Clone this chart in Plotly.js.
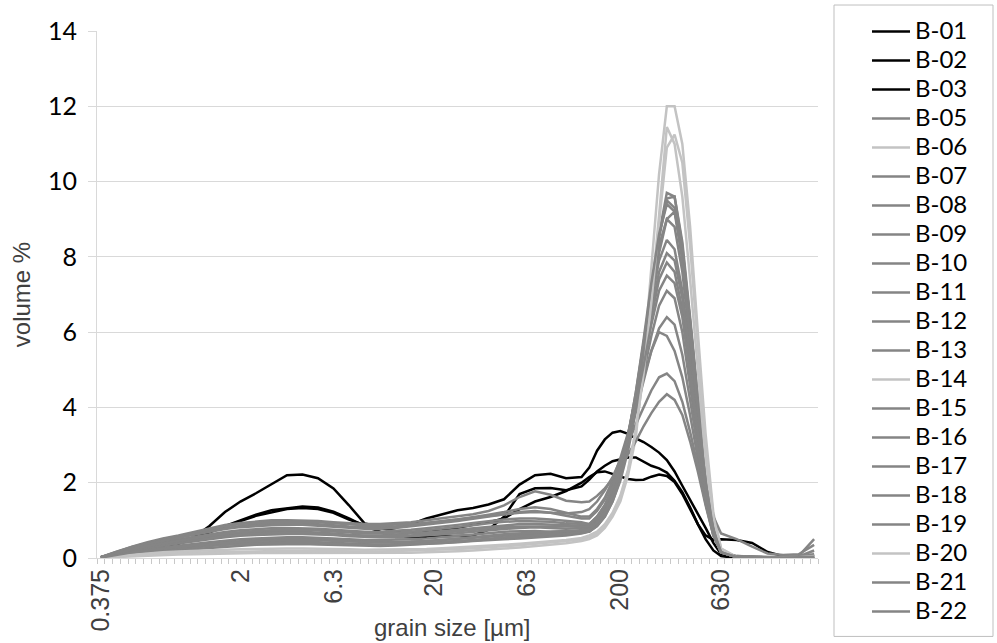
<!DOCTYPE html>
<html>
<head>
<meta charset="utf-8">
<script src="https://cdn.plot.ly/plotly-3.0.1.min.js"></script>
<style>
  html, body { margin: 0; padding: 0; background: #ffffff; }
  #chart { width: 997px; height: 643px; }
</style>
</head>
<body>
<div id="chart"></div>
<script>
// Grain-size channels (µm) of the laser diffraction run: every second channel
// in the fine and medium range, every channel across the main sand peak.
const sizes = [
  0.375, 0.452, 0.545, 0.657, 0.791, 0.954, 1.149, 1.385, 1.669, 2.010, 2.423, 2.920, 3.519, 4.240, 5.110, 6.158,
  7.421, 8.943, 10.78, 12.99, 15.65, 18.86, 22.73, 27.39, 33.01, 39.78, 47.94, 57.77, 69.62, 83.90, 101.1, 121.8,
  133.7, 146.8, 161.2, 176.9, 194.2, 213.2, 234.1, 256.9, 282.1, 309.6, 339.9, 373.1, 409.6, 449.7, 493.6, 541.9, 594.9, 653.0,
  786.9, 948.3, 1143, 1377, 1660, 2000
];

// Labelled channels on the size axis and their printed labels
const tickSizes  = [0.375, 2.010, 6.158, 20.70, 63.42, 194.2, 653.0];
const tickLabels = ['0.375', '2', '6.3', '20', '63', '200', '630'];

// Volume % per channel for each sample
const b01 = [0.02,0.1,0.17,0.24,0.3,0.38,0.55,0.85,1.22,1.5,1.72,1.97,2.2,2.22,2.12,1.85,
             1.4,0.92,0.84,0.82,0.9,1.05,1.15,1.27,1.33,1.42,1.56,1.95,2.2,2.24,2.12,2.15,
             2.4,2.85,3.15,3.33,3.37,3.3,3.18,3.08,2.95,2.8,2.6,2.3,1.92,1.55,1.2,0.8,0.4,0.1,
             0.02,0,0,0,0,0];
const b02 = [0.02,0.1,0.17,0.25,0.33,0.42,0.55,0.7,0.85,1.0,1.15,1.27,1.33,1.37,1.34,1.23,
             1.05,0.85,0.7,0.56,0.55,0.56,0.57,0.58,0.6,0.75,1.1,1.7,1.85,1.86,1.8,1.9,
             2.08,2.3,2.45,2.57,2.63,2.67,2.67,2.55,2.45,2.38,2.27,2.05,1.75,1.35,0.9,0.5,0.2,0.05,
             0,0,0,0,0,0];
const b03 = [0.02,0.1,0.16,0.23,0.3,0.4,0.52,0.68,0.84,0.98,1.12,1.22,1.3,1.33,1.3,1.2,
             1.02,0.88,0.8,0.72,0.68,0.7,0.74,0.8,0.88,0.95,1.05,1.3,1.5,1.62,1.78,2.0,
             2.15,2.28,2.3,2.24,2.18,2.1,2.07,2.08,2.16,2.22,2.18,2.02,1.7,1.3,0.9,0.6,0.48,0.5,
             0.48,0.4,0.16,0.05,0.03,0.04];
const b05 = [0.01,0.06,0.1,0.14,0.18,0.21,0.25,0.28,0.31,0.33,0.35,0.36,0.37,0.37,0.36,0.35,
             0.33,0.32,0.32,0.33,0.35,0.37,0.4,0.42,0.45,0.48,0.5,0.52,0.54,0.56,0.6,0.65,
             0.7,0.85,1.1,1.5,2.1,2.95,4.1,5.5,7.1,8.6,9.7,9.6,8.3,6.2,4.1,2.2,0.85,0.18,
             0.02,0,0,0,0,0];
const b06 = [0.01,0.03,0.05,0.06,0.08,0.09,0.1,0.11,0.12,0.12,0.13,0.13,0.13,0.13,0.13,0.12,
             0.12,0.12,0.13,0.13,0.14,0.15,0.16,0.18,0.2,0.22,0.25,0.28,0.31,0.35,0.39,0.45,
             0.5,0.6,0.8,1.1,1.5,2.2,3.2,5.2,7.6,10.2,12.0,12.0,11.0,8.8,6.0,3.3,1.2,0.25,
             0.03,0.02,0.02,0.03,0.05,0.12];
const b07 = [0.01,0.08,0.13,0.18,0.22,0.26,0.3,0.33,0.36,0.39,0.41,0.42,0.43,0.43,0.42,0.4,
             0.38,0.36,0.35,0.35,0.36,0.38,0.4,0.43,0.46,0.5,0.53,0.56,0.6,0.62,0.64,0.68,
             0.7,0.9,1.15,1.6,2.2,3.1,4.3,5.7,7.2,8.6,9.5,9.3,8.0,6.0,3.9,2.0,0.8,0.15,
             0.02,0,0,0,0,0];
const b08 = [0.02,0.12,0.2,0.27,0.33,0.39,0.45,0.5,0.55,0.59,0.61,0.63,0.64,0.64,0.63,0.61,
             0.58,0.56,0.55,0.55,0.57,0.6,0.63,0.66,0.7,0.74,0.77,0.8,0.82,0.8,0.78,0.8,
             0.8,1.0,1.3,1.75,2.4,3.25,4.3,5.5,6.8,7.9,8.45,8.2,7.1,5.4,3.6,1.9,0.75,0.15,
             0.03,0.02,0,0,0,0.02];
const b09 = [0.02,0.13,0.22,0.3,0.37,0.44,0.5,0.56,0.61,0.65,0.68,0.7,0.71,0.7,0.68,0.65,
             0.62,0.6,0.6,0.62,0.65,0.68,0.72,0.76,0.8,0.84,0.88,0.9,0.9,0.88,0.86,0.86,
             0.85,1.05,1.35,1.8,2.4,3.2,4.2,5.3,6.4,7.4,7.85,7.6,6.6,5.0,3.4,1.8,0.7,0.15,
             0.05,0.03,0.02,0.02,0.03,0.05];
const b10 = [0.02,0.17,0.3,0.42,0.52,0.6,0.7,0.8,0.88,0.93,0.97,1.0,1.0,1.0,0.98,0.95,
             0.92,0.9,0.9,0.92,0.95,1.0,1.05,1.1,1.16,1.25,1.4,1.62,1.77,1.68,1.52,1.48,
             1.5,1.65,1.85,2.1,2.4,2.75,3.1,3.5,3.85,4.15,4.35,4.2,3.8,3.1,2.3,1.4,0.6,0.15,
             0.05,0.03,0.02,0.02,0.05,0.5];
const b11 = [0.01,0.09,0.15,0.21,0.26,0.3,0.35,0.39,0.42,0.45,0.48,0.5,0.51,0.51,0.5,0.48,
             0.45,0.43,0.42,0.42,0.43,0.45,0.48,0.51,0.54,0.57,0.6,0.62,0.64,0.65,0.66,0.68,
             0.7,0.85,1.1,1.5,2.05,2.85,3.9,5.2,6.7,8.1,9.0,9.2,8.2,6.3,4.2,2.3,0.9,0.2,
             0.02,0,0,0,0,0];
const b12 = [0.02,0.16,0.28,0.39,0.48,0.56,0.65,0.73,0.8,0.85,0.89,0.91,0.92,0.92,0.9,0.87,
             0.84,0.82,0.82,0.84,0.88,0.92,0.97,1.02,1.08,1.15,1.22,1.3,1.35,1.3,1.2,1.1,
             1.1,1.3,1.6,2.05,2.65,3.3,4.0,4.8,5.5,6.0,5.9,5.5,4.8,3.8,2.7,1.5,0.6,0.15,
             0.03,0.02,0.02,0.02,0.03,0.08];
const b13 = [0.01,0.07,0.12,0.17,0.21,0.25,0.29,0.32,0.35,0.37,0.39,0.4,0.41,0.41,0.4,0.38,
             0.36,0.35,0.35,0.36,0.38,0.4,0.42,0.45,0.48,0.51,0.54,0.57,0.6,0.63,0.66,0.7,
             0.75,0.9,1.15,1.55,2.15,3.0,4.1,5.5,7.0,8.5,9.55,9.6,8.4,6.4,4.3,2.4,1.1,0.65,
             0.5,0.3,0.12,0.08,0.1,0.35];
const b14 = [0.01,0.04,0.07,0.09,0.11,0.13,0.14,0.15,0.16,0.17,0.18,0.18,0.19,0.19,0.18,0.18,
             0.17,0.17,0.17,0.18,0.19,0.2,0.22,0.24,0.26,0.28,0.31,0.34,0.37,0.41,0.45,0.5,
             0.55,0.65,0.85,1.15,1.6,2.3,3.4,4.9,6.9,9.1,11.45,11.0,9.6,7.4,4.9,2.6,0.95,0.2,
             0.02,0.01,0.01,0.02,0.03,0.08];
const b15 = [0.02,0.14,0.25,0.34,0.42,0.49,0.56,0.63,0.69,0.74,0.77,0.79,0.8,0.8,0.78,0.75,
             0.72,0.7,0.7,0.72,0.75,0.79,0.83,0.88,0.93,0.98,1.02,1.05,1.05,1.02,0.98,0.95,
             0.9,1.1,1.4,1.85,2.4,3.1,4.0,4.9,5.9,6.7,7.1,6.9,6.0,4.6,3.1,1.7,0.65,0.15,
             0.03,0.02,0.01,0.02,0.03,0.1];
const b16 = [0.02,0.17,0.29,0.4,0.5,0.58,0.67,0.76,0.84,0.9,0.94,0.96,0.97,0.97,0.95,0.92,
             0.89,0.87,0.87,0.88,0.9,0.94,0.98,1.03,1.08,1.12,1.16,1.2,1.22,1.2,1.18,1.22,
             1.3,1.5,1.8,2.15,2.6,3.05,3.55,4.0,4.45,4.8,4.9,4.7,4.15,3.35,2.45,1.45,0.6,0.15,
             0.04,0.03,0.02,0.02,0.04,0.2];
const b17 = [0.01,0.1,0.17,0.23,0.28,0.33,0.38,0.42,0.46,0.5,0.52,0.54,0.55,0.55,0.54,0.52,
             0.5,0.48,0.48,0.48,0.5,0.52,0.55,0.58,0.62,0.66,0.7,0.72,0.72,0.7,0.7,0.72,
             0.75,0.95,1.25,1.7,2.35,3.25,4.4,5.7,7.1,8.3,9.0,8.8,7.6,5.7,3.8,2.0,0.8,0.15,
             0.02,0,0,0,0,0];
const b18 = [0.02,0.12,0.21,0.28,0.35,0.41,0.47,0.53,0.58,0.62,0.64,0.66,0.67,0.67,0.65,0.62,
             0.6,0.58,0.58,0.58,0.6,0.63,0.67,0.71,0.75,0.79,0.82,0.84,0.84,0.83,0.82,0.84,
             0.85,1.05,1.35,1.8,2.45,3.3,4.3,5.4,6.6,7.6,8.1,7.9,6.9,5.3,3.5,1.9,0.75,0.15,
             0.03,0.02,0.01,0.01,0.02,0.04];
const b19 = [0.02,0.15,0.27,0.37,0.46,0.54,0.62,0.7,0.77,0.82,0.85,0.87,0.88,0.88,0.86,0.83,
             0.8,0.78,0.78,0.8,0.84,0.88,0.93,0.98,1.04,1.1,1.16,1.22,1.25,1.2,1.12,1.05,
             1.05,1.25,1.55,1.95,2.5,3.2,3.9,4.7,5.5,6.1,6.4,6.2,5.4,4.2,2.9,1.6,0.65,0.15,
             0.03,0.02,0.02,0.02,0.03,0.06];
const b20 = [0.01,0.05,0.09,0.12,0.15,0.17,0.19,0.21,0.22,0.23,0.24,0.25,0.25,0.25,0.25,0.24,
             0.23,0.22,0.22,0.22,0.23,0.24,0.26,0.28,0.3,0.32,0.35,0.38,0.41,0.44,0.48,0.53,
             0.6,0.7,0.9,1.2,1.65,2.35,3.4,4.9,6.8,8.9,10.9,11.25,10.5,8.3,5.6,3.0,1.1,0.25,
             0.02,0.01,0.01,0.01,0.02,0.05];
const b21 = [0.01,0.09,0.15,0.2,0.25,0.29,0.33,0.37,0.4,0.43,0.46,0.47,0.48,0.48,0.47,0.45,
             0.43,0.42,0.41,0.42,0.43,0.45,0.48,0.51,0.55,0.59,0.63,0.66,0.68,0.7,0.72,0.74,
             0.75,0.95,1.2,1.65,2.3,3.2,4.4,5.8,7.3,8.6,9.4,9.2,7.9,5.9,3.9,2.0,0.75,0.15,
             0.02,0,0,0,0,0];
const b22 = [0.02,0.13,0.23,0.32,0.39,0.46,0.53,0.59,0.65,0.69,0.72,0.74,0.75,0.75,0.73,0.7,
             0.67,0.65,0.65,0.67,0.7,0.74,0.78,0.82,0.87,0.92,0.96,0.98,0.98,0.96,0.92,0.9,
             0.9,1.1,1.4,1.85,2.45,3.2,4.1,5.1,6.2,7.1,7.5,7.3,6.4,4.9,3.3,1.8,0.7,0.15,
             0.03,0.02,0.01,0.01,0.02,0.03];

const sampleNames = ['B-01','B-02','B-03','B-05','B-06','B-07','B-08','B-09','B-10','B-11','B-12',
                     'B-13','B-14','B-15','B-16','B-17','B-18','B-19','B-20','B-21','B-22'];
const sampleValues = [b01,b02,b03,b05,b06,b07,b08,b09,b10,b11,b12,b13,b14,b15,b16,b17,b18,b19,b20,b21,b22];

const BLACK = '#000000', GREY = '#858585', LIGHT = '#c3c3c3';
const sampleColors = [BLACK, BLACK, BLACK, GREY, LIGHT, GREY, GREY, GREY, GREY, GREY, GREY,
                      GREY, LIGHT, GREY, GREY, GREY, GREY, GREY, LIGHT, GREY, GREY];

// Legend rows keep a 20 px pitch while the sample names print a little larger
const traces = sampleNames.map((name, i) => ({
  type: 'scatter',
  mode: 'lines',
  name: '<span style="font-size:24px">' + name + '</span>',
  x: sizes,
  y: sampleValues[i],
  line: { color: sampleColors[i], width: 2.5 },
  hoverinfo: 'skip'
}));

// 93 instrument channels, equally spaced on a log scale; half a channel of
// padding at both ends of the size axis.
const lo = Math.log10(sizes[0]);
const hi = Math.log10(sizes[sizes.length - 1]);
const channelStep = (hi - lo) / 92;

const ARIAL = 'Liberation Sans, Arial, sans-serif';
const CALIBRI = 'Lato, Carlito, Calibri, sans-serif';
const AXIS_GREY = '#404040';

// Plot area in pixels: x 97..818, y 31..558.5
const PLOT_TOP = 31, PLOT_BOTTOM = 558.5, PLOT_LEFT = 97, PLOT_RIGHT = 818;
const plotH = PLOT_BOTTOM - PLOT_TOP, plotW = PLOT_RIGHT - PLOT_LEFT;

const layout = {
  width: 997,
  height: 643,
  margin: { l: PLOT_LEFT, r: 997 - PLOT_RIGHT, t: PLOT_TOP, b: 643 - PLOT_BOTTOM },
  paper_bgcolor: '#ffffff',
  plot_bgcolor: '#ffffff',
  showlegend: true,
  xaxis: {
    type: 'log',
    range: [lo - channelStep / 2, hi + channelStep / 2],
    tickmode: 'array',
    tickvals: tickSizes,
    ticktext: tickLabels,
    tickangle: -90,
    ticks: '',
    tickfont: { family: ARIAL, size: 25, color: AXIS_GREY },
    showgrid: false,
    zeroline: false,
    showline: true,
    linecolor: '#d9d9d9',
    linewidth: 1,
    minor: {
      ticks: 'outside',
      ticklen: 5,
      tickcolor: '#c8c8c8',
      tickwidth: 1,
      tick0: lo - channelStep / 2,
      dtick: channelStep,
      showgrid: false
    }
  },
  yaxis: {
    range: [0, 14],
    tickmode: 'linear',
    tick0: 0,
    dtick: 2,
    ticks: 'outside',
    ticklen: 8,
    tickcolor: '#d9d9d9',
    tickfont: { family: CALIBRI, size: 25, color: '#000000' },
    ticklabelstandoff: 6,
    showgrid: true,
    gridcolor: '#d9d9d9',
    gridwidth: 1,
    zeroline: false,
    showline: true,
    linecolor: '#d9d9d9',
    linewidth: 1,
    title: { text: 'volume %', font: { family: ARIAL, size: 24, color: AXIS_GREY }, standoff: 10 }
  },
  // x-axis title sits beside the rotated size labels, at the bottom edge
  annotations: [{
    text: 'grain size [µm]',
    xref: 'paper', yref: 'paper',
    x: 0.493, y: (PLOT_BOTTOM - 628) / plotH,
    xanchor: 'center', yanchor: 'middle',
    showarrow: false,
    font: { family: ARIAL, size: 24, color: AXIS_GREY }
  }],
  legend: {
    xref: 'container',
    yref: 'container',
    x: 867 / 997,
    y: 1 - 12 / 643,
    xanchor: 'left',
    yanchor: 'top',
    maxheight: 640,
    itemwidth: 38,
    bgcolor: 'rgba(0,0,0,0)',
    borderwidth: 0,
    font: { family: CALIBRI, size: 20, color: '#000000' },
    traceorder: 'normal'
  },
  shapes: [{
    type: 'rect',
    xref: 'paper', yref: 'paper',
    x0: (834 - PLOT_LEFT) / plotW, x1: (993 - PLOT_LEFT) / plotW,
    y0: (PLOT_BOTTOM - 637) / plotH, y1: (PLOT_BOTTOM - 5) / plotH,
    line: { color: '#bfbfbf', width: 1 },
    fillcolor: 'rgba(0,0,0,0)',
    layer: 'below'
  }]
};

Plotly.newPlot('chart', traces, layout, { displayModeBar: false, staticPlot: true });
</script>
</body>
</html>
